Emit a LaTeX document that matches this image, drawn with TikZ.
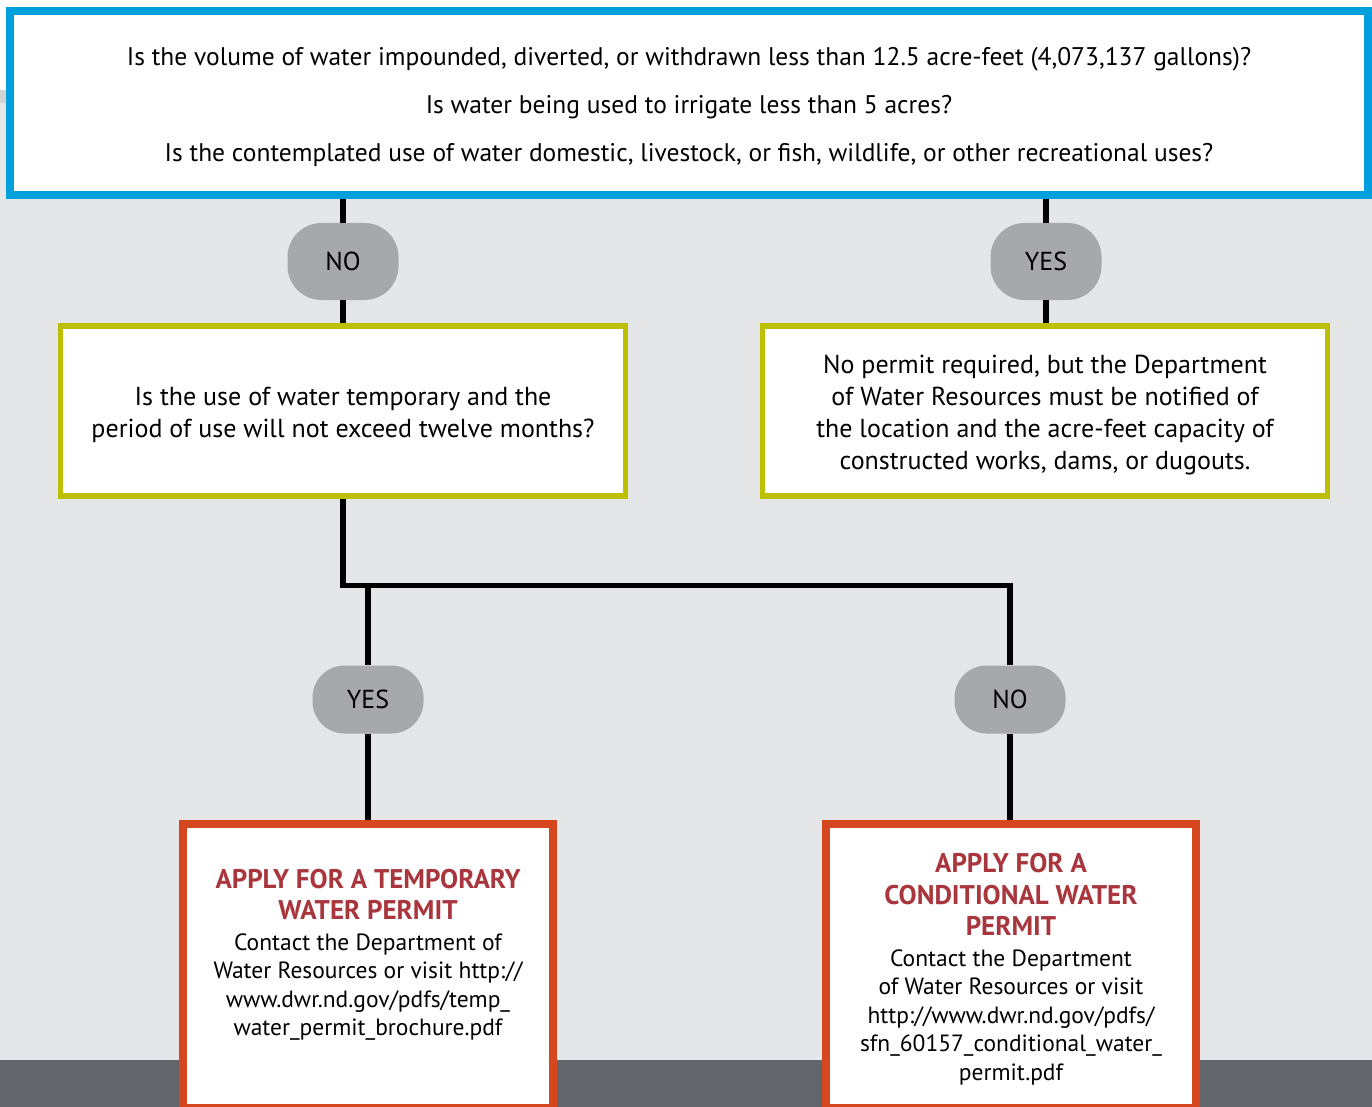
\documentclass[tikz,border=0pt]{standalone}
\usepackage{fontspec}
\setmainfont{PT Sans}
\definecolor{bgA}{HTML}{E5E6E8}
\definecolor{bgStrip}{HTML}{D1D3D4}
\definecolor{bgDark}{HTML}{63656C}
\definecolor{blueB}{HTML}{00A0DF}
\definecolor{greenB}{HTML}{BCC000}
\definecolor{redB}{HTML}{D5471F}
\definecolor{hdr}{HTML}{A9353D}
\definecolor{ovalG}{HTML}{A7A8AB}
\tikzset{
  qbox/.style={draw=blueB, line width=8pt, fill=white, minimum width=1358pt, minimum height=184pt, inner sep=0pt},
  gbox/.style={draw=greenB, line width=5.5pt, fill=white, minimum width=565pt, minimum height=170pt, inner sep=0pt},
  rbox/.style={draw=redB, line width=8pt, fill=white, minimum width=370pt, minimum height=284pt, inner sep=0pt},
  oval/.style={fill=ovalG, rounded corners=34pt, minimum width=111pt, inner sep=0pt, font=\fontsize{26}{30}\selectfont},
  conn/.style={draw=black, line width=5.5pt},
  body/.style={align=center, font=\fontsize{26}{32}\selectfont, inner sep=0pt},
  hd/.style={},
}
\newcommand{\hdtxt}[1]{{\fontsize{27}{31}\selectfont\bfseries\color{hdr}#1}}
\begin{document}
\begin{tikzpicture}[x=1pt, y=-1pt]
\useasboundingbox (0,0) rectangle (1372,1107);
\clip (0,0) rectangle (1372,1107);
% background
\fill[white] (0,0) rectangle (1372,1107);
\fill[bgStrip] (0,90) rectangle (20,103);
\fill[bgA] (0,103) rectangle (1372,1060);
\fill[bgDark] (0,1060) rectangle (1372,1107);

% top question
\node[qbox, body, font=\fontsize{25.5}{48}\selectfont, text depth=0pt] (q1) at (689,103) {};
\node[body, font=\fontsize{25.5}{48}\selectfont] (q1t) at (689,106.5)
  {Is the volume of water impounded, diverted, or withdrawn less than 12.5 acre-feet (4,073,137 gallons)?\\
   Is water being used to irrigate less than 5 acres?\\
   Is the contemplated use of water domestic, livestock, or fish, wildlife, or other recreational uses?};

% ovals
\node[oval, minimum height=77pt] (no1) at (343,261.5) {NO};
\node[oval, minimum height=77pt] (yes1) at (1046,261.5) {YES};

% green boxes
\node[gbox] (g1) at (343,411) {};
\node[body] (g1t) at (343,415) {Is the use of water temporary and the\\ period of use will not exceed twelve months?};
\node[gbox] (g2) at (1045,411) {};
\node[body] (g2t) at (1045,415.5) {No permit required, but the Department\\ of Water Resources must be notified of\\ the location and the acre-feet capacity of\\ constructed works, dams, or dugouts.};

% lower ovals
\node[oval, minimum height=68pt, rounded corners=32pt] (yes2) at (368,699.5) {YES};
\node[oval, minimum height=68pt, rounded corners=32pt] (no2) at (1010,699.5) {NO};

% red boxes
\node[rbox] (r1) at (368,966) {};
\node[rbox] (r2) at (1011,966) {};
\node[body, font=\fontsize{23.5}{28.5}\selectfont] (r1t) at (368,955)
  {\hdtxt{APPLY FOR A TEMPORARY}\\[2.5pt]
   \hdtxt{WATER PERMIT}\\[2.5pt]
   Contact the Department of\\
   Water Resources or visit http://\\
   www.dwr.nd.gov/pdfs/temp\_\\
   water\_permit\_brochure.pdf};
\node[body, font=\fontsize{23.5}{28.5}\selectfont] (r2t) at (1011,969)
  {\hdtxt{APPLY FOR A}\\[3pt]
   \hdtxt{CONDITIONAL WATER}\\[3pt]
   \hdtxt{PERMIT}\\[2pt]
   Contact the Department\\
   of Water Resources or visit\\
   http://www.dwr.nd.gov/pdfs/\\
   sfn\_60157\_conditional\_water\_\\
   permit.pdf};

% connectors
\coordinate (j) at (343,585.5);
\draw[conn] (no1 |- q1.south) -- (no1.north);
\draw[conn] (no1.south) -- (g1.north);
\draw[conn] (yes1 |- q1.south) -- (yes1.north);
\draw[conn] (yes1.south) -- (yes1 |- g2.north);
\draw[conn] (g1.south) -- (j) -| (no2.north);
\draw[conn] (yes2 |- j) -- (yes2.north);
\draw[conn] (yes2.south) -- (r1.north);
\draw[conn] (no2.south) -- (no2 |- r2.north);
\end{tikzpicture}
\end{document}
